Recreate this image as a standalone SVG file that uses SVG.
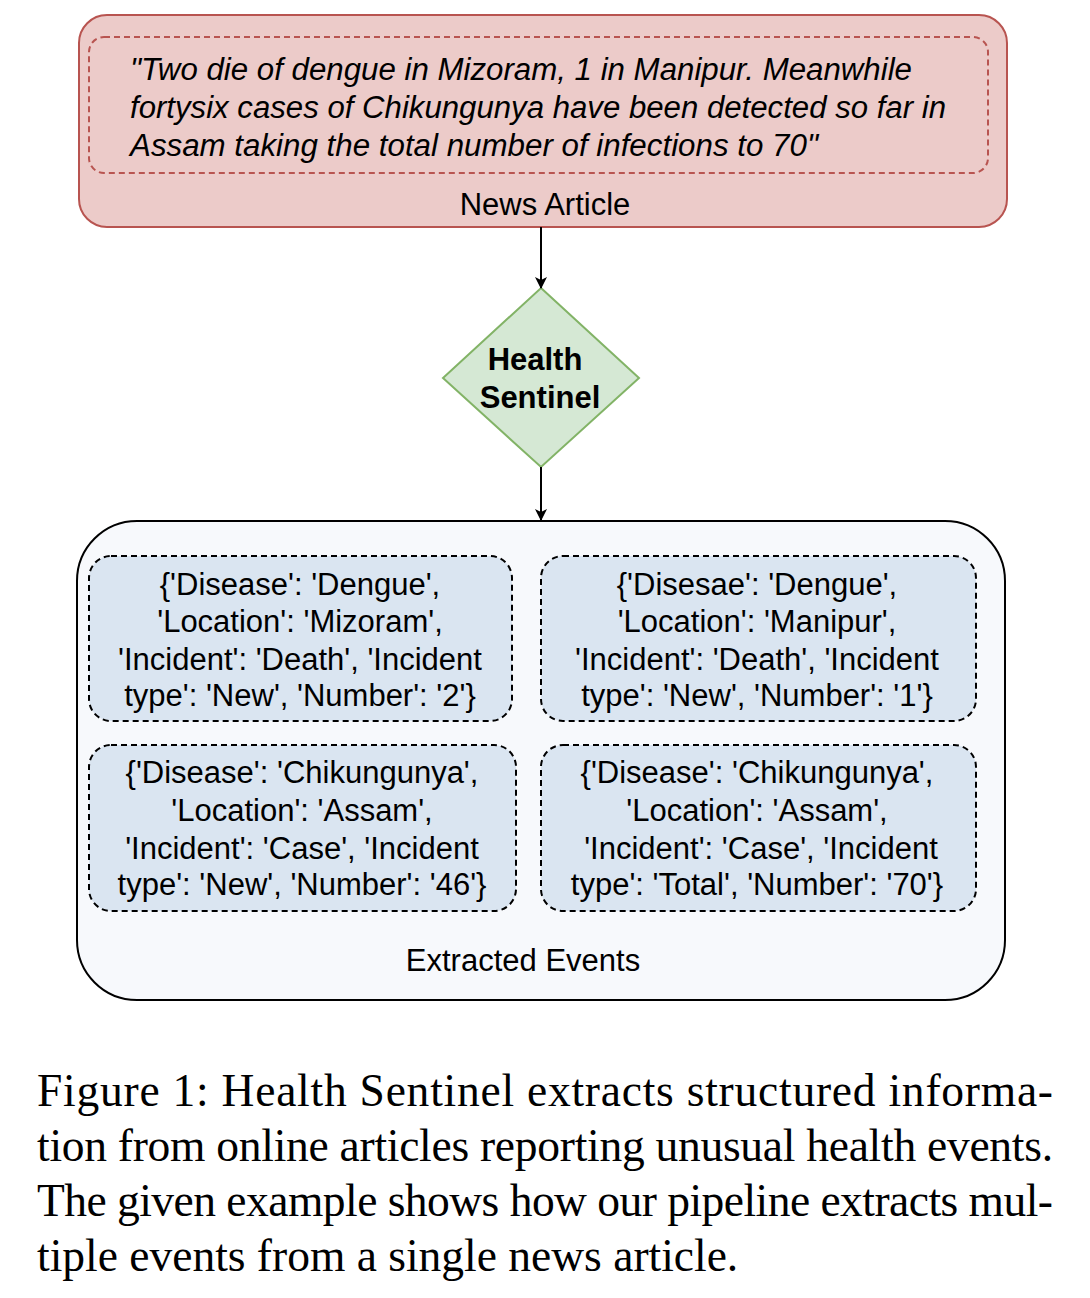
<svg xmlns="http://www.w3.org/2000/svg" width="1090" height="1298" viewBox="0 0 1090 1298">
<defs>
<marker id="arr" viewBox="0 0 12 12" refX="11" refY="6" markerWidth="12" markerHeight="12" markerUnits="userSpaceOnUse" orient="auto">
<path d="M0,0 L12,6 L0,12 L3,6 Z" fill="#000"/>
</marker>
<style>
.sans{font-family:"Liberation Sans",Arial,sans-serif;fill:#000}
.quote{font-size:31px;font-style:italic}
.lbl{font-size:31px;text-anchor:middle}
.ev{font-size:31px;text-anchor:middle}
.evbox{fill:#dae5f1;stroke:#000;stroke-width:2;stroke-dasharray:6 4}
.cap{font-family:"Liberation Serif","Times New Roman",serif;font-size:45.5px;fill:#000}
</style>
</defs>
<rect width="1090" height="1298" fill="#fff"/>
<g id="news-article">
<rect x="79" y="15" width="928" height="212" rx="28" fill="#eccbc9" stroke="#b85450" stroke-width="2"/>
<rect x="89" y="37" width="899" height="136" rx="15" fill="none" stroke="#b85450" stroke-width="2" stroke-dasharray="6 4"/>
<text class="sans quote" x="130" y="80" textLength="782" lengthAdjust="spacingAndGlyphs">"Two die of dengue in Mizoram, 1 in Manipur. Meanwhile</text>
<text class="sans quote" x="130" y="118" textLength="816" lengthAdjust="spacingAndGlyphs">fortysix cases of Chikungunya have been detected so far in</text>
<text class="sans quote" x="130" y="156" textLength="688" lengthAdjust="spacingAndGlyphs">Assam taking the total number of infections to 70"</text>
<text class="sans lbl" x="545" y="215">News Article</text>
</g>
<g id="health-sentinel">
<polygon points="541,288 639,378 541,467 443,378" fill="#d5e8d4" stroke="#82b366" stroke-width="2"/>
<text class="sans" x="535" y="370" font-size="31" font-weight="bold" text-anchor="middle">Health</text>
<text class="sans" x="540" y="408" font-size="31" font-weight="bold" text-anchor="middle">Sentinel</text>
</g>
<g id="connectors" stroke="#000" stroke-width="2" fill="none">
<line x1="541" y1="227" x2="541" y2="288" marker-end="url(#arr)"/>
<line x1="541" y1="467" x2="541" y2="520" marker-end="url(#arr)"/>
</g>
<g id="extracted-events">
<rect x="77" y="521" width="928" height="479" rx="60" fill="#f7f9fc" stroke="#000" stroke-width="2"/>
<text class="sans lbl" x="523" y="971">Extracted Events</text>
</g>
<g id="event-1">
<rect class="evbox" x="89" y="556" width="423" height="165" rx="22"/>
<text class="sans ev" x="300" y="595">{'Disease': 'Dengue',</text>
<text class="sans ev" x="300" y="632">'Location': 'Mizoram',</text>
<text class="sans ev" x="300" y="670">'Incident': 'Death', 'Incident</text>
<text class="sans ev" x="300" y="706">type': 'New', 'Number': '2'}</text>
</g>
<g id="event-2">
<rect class="evbox" x="541" y="556" width="435" height="165" rx="22"/>
<text class="sans ev" x="757" y="595">{'Disesae': 'Dengue',</text>
<text class="sans ev" x="757" y="632">'Location': 'Manipur',</text>
<text class="sans ev" x="757" y="670">'Incident': 'Death', 'Incident</text>
<text class="sans ev" x="757" y="706">type': 'New', 'Number': '1'}</text>
</g>
<g id="event-3">
<rect class="evbox" x="89" y="745" width="427" height="166" rx="22"/>
<text class="sans ev" x="302" y="783">{'Disease': 'Chikungunya',</text>
<text class="sans ev" x="302" y="821">'Location': 'Assam',</text>
<text class="sans ev" x="302" y="859">'Incident': 'Case', 'Incident</text>
<text class="sans ev" x="302" y="895">type': 'New', 'Number': '46'}</text>
</g>
<g id="event-4">
<rect class="evbox" x="541" y="745" width="435" height="166" rx="22"/>
<text class="sans ev" x="757" y="783">{'Disease': 'Chikungunya',</text>
<text class="sans ev" x="757" y="821">'Location': 'Assam',</text>
<text class="sans ev" x="761" y="859">'Incident': 'Case', 'Incident</text>
<text class="sans ev" x="757" y="895">type': 'Total', 'Number': '70'}</text>
</g>
<g id="caption">
<text class="cap" x="37" y="1106" textLength="1016" lengthAdjust="spacing">Figure 1: Health Sentinel extracts structured informa-</text>
<text class="cap" x="37" y="1161" textLength="1016" lengthAdjust="spacing">tion from online articles reporting unusual health events.</text>
<text class="cap" x="37" y="1216" textLength="1016" lengthAdjust="spacing">The given example shows how our pipeline extracts mul-</text>
<text class="cap" x="37" y="1271">tiple events from a single news article.</text>
</g>
</svg>
